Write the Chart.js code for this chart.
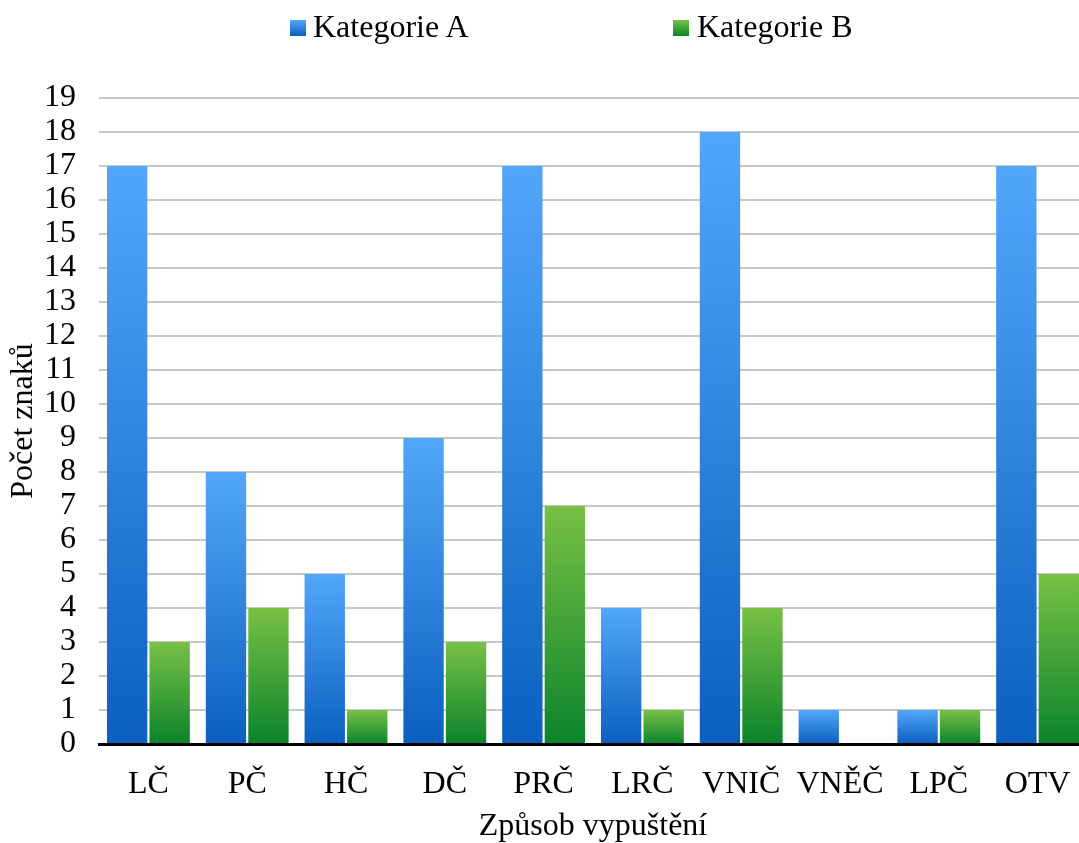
<!DOCTYPE html>
<html>
<head>
<meta charset="utf-8">
<script src="https://cdn.jsdelivr.net/npm/chart.js@4"></script>
<style>
  body { margin: 0; background: #fff; overflow: hidden; }
  #wrap { width: 1079px; height: 843px; position: relative; overflow: hidden; }
  .legend {
    position: absolute; top: 0; left: 0; width: 1079px; height: 48px;
    font-family: "Liberation Serif", "Times New Roman", serif; font-size: 32px; line-height: 32px; color: #000;
  }
  .legend .box { position: absolute; top: 20px; width: 16px; height: 16px; }
  .legend .txt { position: absolute; top: 10px; white-space: nowrap; }
  #chart { position: absolute; top: 0; left: 0; }
</style>
</head>
<body>
<div id="wrap">
  <!-- oblast grafu v originale pokracuje kousek za pravy okraj -->
  <canvas id="chart" width="1087" height="843"></canvas>
  <div class="legend" id="legend"></div>
</div>
<script>
// kategorie (osa x)
const kategorie = ["LČ", "PČ", "HČ", "DČ", "PRČ", "LRČ", "VNIČ", "VNĚČ", "LPČ", "OTV"];
// hodnoty
const hodnotyA = [17, 8, 5, 9, 17, 4, 18, 1, 1, 17];
const hodnotyB = [3, 4, 1, 3, 7, 1, 4, 0, 1, 5];
const nazvyRad = ["Kategorie A", "Kategorie B"];

const barvyA = ["#52a7fb", "#0b5fbf"];
const barvyB = ["#78c145", "#0b832b"];

// legenda nahore
const legendEl = document.getElementById("legend");
const legendBox = [290, 673];
const legendTxt = [313, 697];
nazvyRad.forEach((n, i) => {
  const c = i === 0 ? barvyA : barvyB;
  const b = document.createElement("span");
  b.className = "box";
  b.style.left = legendBox[i] + "px";
  b.style.background = "linear-gradient(" + c[0] + "," + c[1] + ")";
  const t = document.createElement("span");
  t.className = "txt";
  t.style.left = legendTxt[i] + "px";
  t.textContent = n;
  legendEl.appendChild(b);
  legendEl.appendChild(t);
});

// gradient pro kazdy sloupec zvlast
function gradient(barvy) {
  return function (ctx) {
    const chart = ctx.chart;
    const y = chart.scales.y;
    if (!chart.chartArea || !y || ctx.type !== "data") return barvy[0];
    const v = ctx.raw;
    const top = y.getPixelForValue(v);
    const bottom = y.getPixelForValue(0);
    if (!(bottom - top > 0)) return barvy[0];
    const g = chart.ctx.createLinearGradient(0, top, 0, bottom);
    g.addColorStop(0, barvy[0]);
    g.addColorStop(1, barvy[1]);
    return g;
  };
}

const font = "'Liberation Serif', 'Times New Roman', serif";

new Chart(document.getElementById("chart"), {
  type: "bar",
  data: {
    labels: kategorie,
    datasets: [
      {
        label: nazvyRad[0],
        data: hodnotyA,
        backgroundColor: gradient(barvyA),
        categoryPercentage: 0.86,
        barPercentage: 0.95,
      },
      {
        label: nazvyRad[1],
        data: hodnotyB,
        backgroundColor: gradient(barvyB),
        categoryPercentage: 0.86,
        barPercentage: 0.95,
      },
    ],
  },
  options: {
    responsive: false,
    animation: false,
    layout: { padding: { top: 98, right: 0, left: 0, bottom: 0 } },
    plugins: {
      legend: { display: false },
      tooltip: { enabled: false },
    },
    scales: {
      x: {
        afterFit: (s) => {
          s.height = 99;
          s.paddingLeft = 0;
          s.paddingRight = 0;
        },
        grid: { display: false, drawTicks: false },
        border: { display: true, color: "#000", width: 3 },
        ticks: { color: "#000", font: { family: font, size: 32, lineHeight: 1 }, padding: 25, autoSkip: false, maxRotation: 0 },
        title: {
          display: true,
          text: "Způsob vypuštění",
          color: "#000",
          font: { family: font, size: 32, lineHeight: 1 },
          padding: 0,
        },
      },
      y: {
        afterFit: (s) => { s.width = 99; },
        min: 0,
        max: 19,
        ticks: { stepSize: 1, autoSkip: false, color: "#000", font: { family: font, size: 32, lineHeight: 1 }, padding: 23 },
        grid: { color: "#c8c8c8", lineWidth: 2, drawTicks: false },
        border: { display: false },
        title: {
          display: true,
          text: "Počet znaků",
          color: "#000",
          font: { family: font, size: 32, lineHeight: 1 },
          padding: { top: 8, bottom: 0 },
        },
      },
    },
  },
});
</script>
</body>
</html>
